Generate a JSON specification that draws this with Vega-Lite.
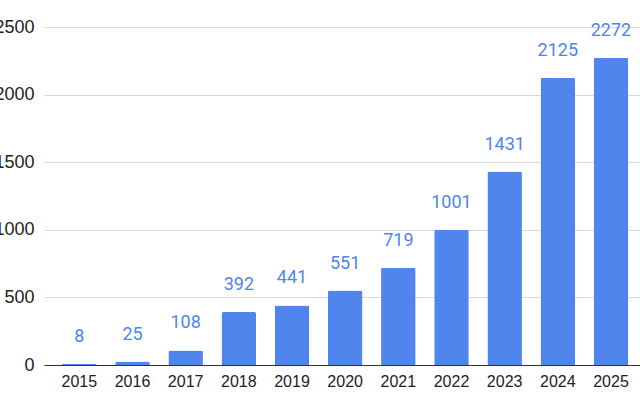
{
  "$schema": "https://vega.github.io/schema/vega-lite/v6.json",
  "autosize": {"type": "none"},
  "width": 596,
  "height": 338,
  "padding": {"left": 44, "top": 27, "right": 0, "bottom": 31},
  "background": "white",
  "config": {"view": {"stroke": null}},
  "data": {"values": [
    {"year": "2015", "value": 8},
    {"year": "2016", "value": 25},
    {"year": "2017", "value": 108},
    {"year": "2018", "value": 392},
    {"year": "2019", "value": 441},
    {"year": "2020", "value": 551},
    {"year": "2021", "value": 719},
    {"year": "2022", "value": 1001},
    {"year": "2023", "value": 1431},
    {"year": "2024", "value": 2125},
    {"year": "2025", "value": 2272}
  ]},
  "encoding": {
    "x": {
      "field": "year", "type": "ordinal",
      "scale": {"paddingInner": 0.35, "paddingOuter": 0.28, "align": 0.606},
      "axis": {"title": null, "labelAngle": 0, "ticks": false, "domainColor": "#333333", "domainWidth": 1, "labelPadding": 8, "labelFont": "Liberation Sans", "labelFontSize": 16, "labelColor": "#222222"}
    },
    "y": {
      "field": "value", "type": "quantitative",
      "scale": {"domain": [0, 2500], "nice": false},
      "axis": {"title": null, "values": [0, 500, 1000, 1500, 2000, 2500], "format": "d", "domain": false, "ticks": false, "gridColor": "#d9d9d9", "labelPadding": 10, "labelFont": "Liberation Sans", "labelFontSize": 18, "labelColor": "#222222"}
    }
  },
  "layer": [
    {"mark": {"type": "bar", "color": "#4f85ec", "cornerRadiusTopLeft": 2, "cornerRadiusTopRight": 2}},
    {"mark": {"type": "text", "color": "#4f85ec", "font": "Roboto", "fontSize": 18, "baseline": "alphabetic", "dy": -22},
     "encoding": {"text": {"field": "value", "type": "quantitative", "format": "d"}}}
  ]
}
